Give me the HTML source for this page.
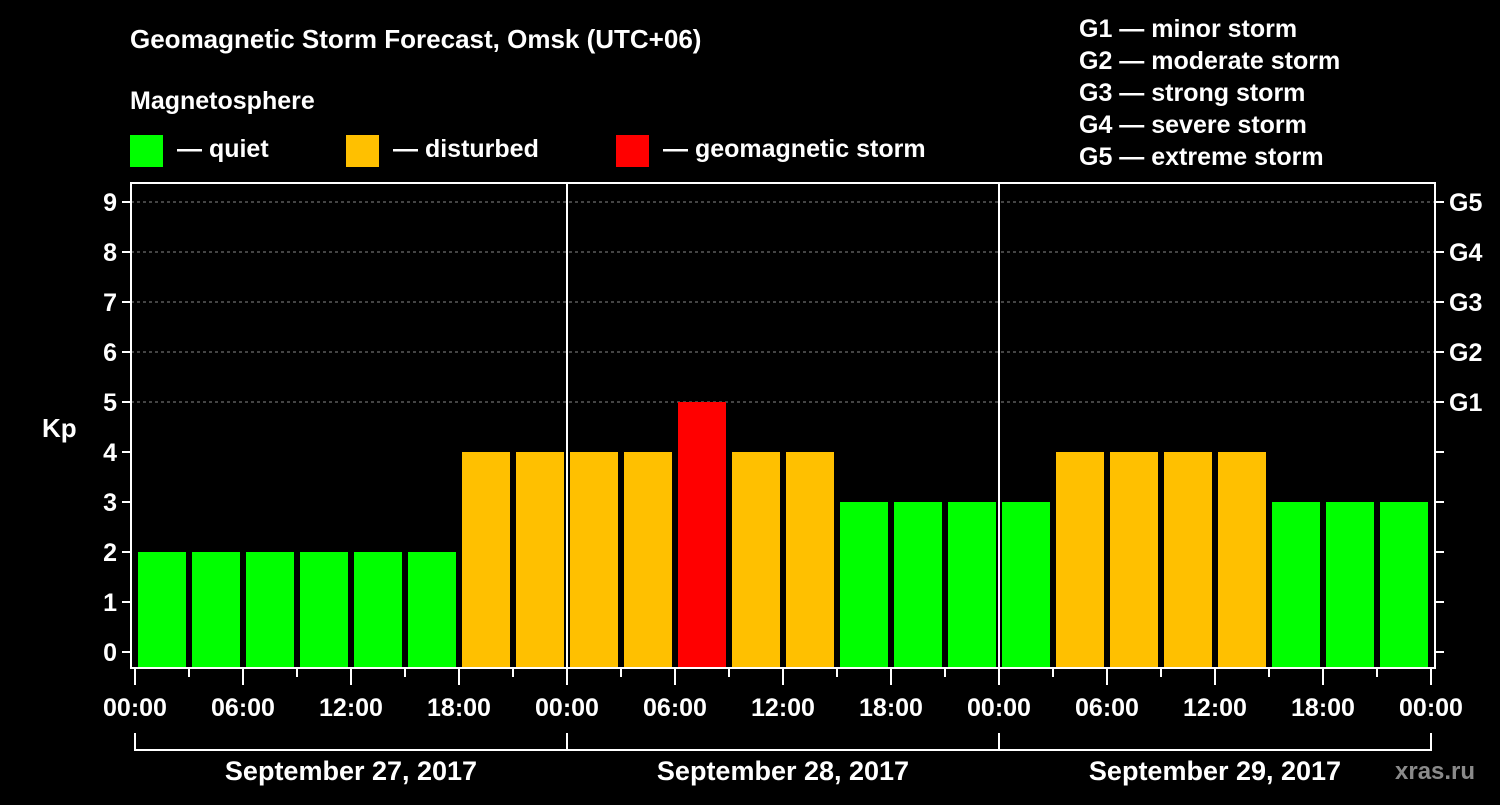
<!DOCTYPE html>
<html><head><meta charset="utf-8"><style>
body{margin:0;background:#000;width:1500px;height:800px;overflow:hidden}
svg text{font-family:"Liberation Sans",sans-serif;font-weight:bold;fill:#fff}
</style></head><body>
<svg id="c" width="1500" height="800" font-family="Liberation Sans, sans-serif">
<text x="130" y="48" font-size="26">Geomagnetic Storm Forecast, Omsk (UTC+06)</text>
<text x="130" y="109" font-size="25">Magnetosphere</text>
<rect x="130" y="135" width="33" height="32" fill="#00ff00"/>
<text x="177" y="157" font-size="25">— quiet</text>
<rect x="346" y="135" width="33" height="32" fill="#ffc000"/>
<text x="393" y="157" font-size="25">— disturbed</text>
<rect x="616" y="135" width="33" height="32" fill="#ff0000"/>
<text x="663" y="157" font-size="25">— geomagnetic storm</text>
<g font-size="25">
<text x="1079" y="37">G1 — minor storm</text>
<text x="1079" y="69">G2 — moderate storm</text>
<text x="1079" y="101">G3 — strong storm</text>
<text x="1079" y="133">G4 — severe storm</text>
<text x="1079" y="165">G5 — extreme storm</text>
</g>
<text x="42" y="437" font-size="26">Kp</text>
<text x="1395" y="779" font-size="24" style="fill:#8a8a8a">xras.ru</text>
<g id="g"></g>
</svg>
<script>
const kpValues=[2,2,2,2,2,2,4,4,4,4,5,4,4,3,3,3,3,4,4,4,4,3,3,3];
const timeLabels=["00:00","06:00","12:00","18:00"];
const dayLabels=["September 27, 2017","September 28, 2017","September 29, 2017"];
const gLabels=["G1","G2","G3","G4","G5"];
(function(){
const NS="http://www.w3.org/2000/svg";
const g=document.getElementById('g');
const x0=135,slot=54,yZero=652,unit=50,plotTop=183,plotBottom=668,left=131,right=1435;
const xs=i=>x0+slot*i;
const ys=v=>yZero-unit*v;
function mk(t,a){const e=document.createElementNS(NS,t);for(const k in a)e.setAttribute(k,a[k]);g.appendChild(e);return e;}
for(let v=5;v<=9;v++){
 const l=mk('line',{x1:left,x2:right,y1:ys(v),y2:ys(v),stroke:'#888','stroke-dasharray':'3,3','stroke-width':1});
 
 
}
kpValues.forEach((v,i)=>{
 const col=v>=5?'#ff0000':v>=4?'#ffc000':'#00ff00';
 const r=mk('rect',{x:xs(i)+3,y:ys(v),width:slot-6,height:plotBottom-ys(v),fill:col});
 
 
});
for(let d=1;d<3;d++){
 const l=mk('line',{x1:xs(d*8),x2:xs(d*8),y1:plotTop,y2:plotBottom,stroke:'#fff','stroke-width':2});
 
 
}
const fr=mk('rect',{x:left,y:plotTop,width:right-left,height:plotBottom-plotTop,fill:'none',stroke:'#fff','stroke-width':2});


for(let v=0;v<=9;v++){
 mk('line',{x1:left-9,x2:left,y1:ys(v),y2:ys(v),stroke:'#fff','stroke-width':2});
 mk('line',{x1:right,x2:right+9,y1:ys(v),y2:ys(v),stroke:'#fff','stroke-width':2});
 const t=mk('text',{x:left-14,y:ys(v)+9,'font-size':25,'text-anchor':'end'});t.textContent=v;
 
 
}
gLabels.forEach((s,i)=>{const t=mk('text',{x:1449,y:ys(5+i)+9,'font-size':25});t.textContent=s;
 
 });
for(let i=0;i<=24;i++){
 const major=i%2===0;
 mk('line',{x1:xs(i),x2:xs(i),y1:plotBottom,y2:major?685:677,stroke:'#fff','stroke-width':2});
 if(major){const t=mk('text',{x:xs(i),y:716,'font-size':25,'text-anchor':'middle'});t.textContent=timeLabels[(i/2)%4];
  
  }
}
mk('path',{d:`M${xs(0)} 733V750H${xs(24)}V733M${xs(8)} 733V750M${xs(16)} 733V750`,stroke:'#fff','stroke-width':2,fill:'none'});
dayLabels.forEach((s,d)=>{const t=mk('text',{x:xs(d*8+4),y:780,'font-size':27,'text-anchor':'middle'});t.textContent=s;
 
 });
})();
</script>
</body></html>
